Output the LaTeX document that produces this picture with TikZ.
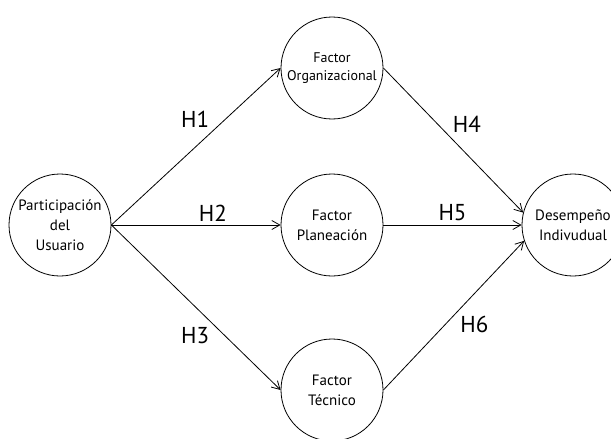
\documentclass[tikz,border=0pt]{standalone}
\usepackage{fontspec}
\setmainfont{PT Sans}
\usepackage{tikz}
\usetikzlibrary{shapes,arrows}
\usetikzlibrary{arrows.meta}
\usetikzlibrary{positioning}

\begin{document}
\begin{tikzpicture}[x=1pt,y=1pt]
        \tikzstyle{factor} = [circle, draw, line width=0.8pt, minimum size=102pt, inner sep=0pt, align=center, font=\fontsize{15}{20}\selectfont]
        \tikzstyle{line} = [draw, line width=0.8pt, -{Straight Barb[length=8pt, width=9pt]}]
        \tikzstyle{hyp} = [font=\fontsize{23}{23}\selectfont]

        \useasboundingbox (0,0) rectangle (611,-439);

        \node [factor] at (60,-225) (participacion) {Participación\\del\\Usuario};
        \node [factor, right of=participacion, node distance=272pt] (planeacion) {Factor\\Planeación};
        \node [factor, above of=planeacion, node distance=157pt, font=\fontsize{14}{18}\selectfont] (organizacional) {Factor\\Organizacional};
        \node [factor, below of=planeacion, node distance=165pt] (tecnico) {Factor\\Técnico};
        \node [factor, right of=planeacion, node distance=241pt] (desempeno) {Desempeño\\Indivudual};

        \path [line] (participacion.east) -- node[pos=0.6, above left, hyp] {H1} (organizacional.west);
        \path [line] (participacion.east) -- node[pos=0.6, above, hyp] {H2} (planeacion.west);
        \path [line] (participacion.east) -- node[pos=0.6, below left, hyp] {H3} (tecnico.west);
        \path [line] (organizacional.east) -- node[pos=0.47, above right, hyp] {H4} (desempeno.166);
        \path [line] (planeacion.east) -- node[midway, above, hyp] {H5} (desempeno.west);
        \path [line] (tecnico.east) -- node[pos=0.52, below right, hyp] {H6} (desempeno.198);
    \end{tikzpicture}
\end{document}
